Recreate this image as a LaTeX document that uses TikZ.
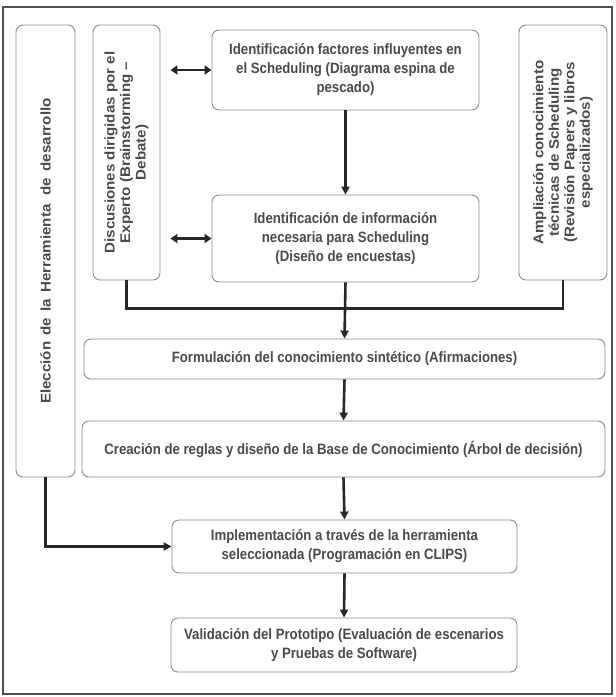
\documentclass[tikz,border=0pt]{standalone}
\usepackage{fontspec}
\setmainfont{Liberation Sans}
\newfontfamily\condfont[FakeStretch=0.88]{Liberation Sans}
\newfontfamily\widefont[FakeStretch=1.08]{Liberation Sans}
\usetikzlibrary{arrows.meta}
\definecolor{txt}{HTML}{4A4A4A}
\definecolor{bord}{HTML}{8C8C8C}
\definecolor{frm}{HTML}{505050}
\tikzset{
  box/.style={draw=bord, line width=0.9pt, rounded corners=7pt, fill=white,
    text=txt, font=\condfont\bfseries\fontsize{15}{19}\selectfont,
    align=center, inner sep=2pt},
  vbox/.style={box, rotate=90, font=\widefont\bfseries\fontsize{14}{15.5}\selectfont},
  flow/.style={line width=2.6pt, draw=black!85, -{Triangle[length=8pt,width=8pt]}},
  plain/.style={line width=2.6pt, draw=black!85},
  dbl/.style={line width=2.6pt, draw=black!85, {Triangle[length=7pt,width=9pt]}-{Triangle[length=7pt,width=9pt]}}
}
\begin{document}
\begin{tikzpicture}[x=1pt,y=-1pt]
\useasboundingbox (0,0) rectangle (616,697);
\draw[frm, line width=1.4pt, fill=white] (3,7) rectangle (612,694);
\node[vbox, minimum width=452pt, minimum height=59pt] (elec) at (45.5,251) {Elección\hspace{2pt} de\hspace{2pt} la\hspace{2pt} Herramienta\hspace{5pt} de\hspace{2pt} desarrollo};
\node[vbox, minimum width=255pt, minimum height=67pt] (disc) at (126.5,152.5) {Discusiones dirigidas por el\\Experto (Brainstorming –\\Debate)};
\node[vbox, minimum width=255pt, minimum height=88pt] (ampl) at (563,152.5) {Ampliación conocimiento\\técnicas de Scheduling\\(Revisión Papers y libros\\especializados)};
\node[box, minimum width=267pt, minimum height=80pt] (f1) at (345.5,70) {Identificación factores influyentes en\\el Scheduling (Diagrama espina de\\pescado)};
\node[box, minimum width=267pt, minimum height=87pt] (f2) at (345.5,238.5) {Identificación de información\\necesaria para Scheduling\\(Diseño de encuestas)};
\node[box, minimum width=521pt, minimum height=40pt] (form) at (344.5,359) {Formulación del conocimiento sintético (Afirmaciones)};
\node[box, minimum width=523pt, minimum height=56pt] (crea) at (343.5,449) {Creación de reglas y diseño de la Base de Conocimiento (Árbol de decisión)};
\node[box, minimum width=345pt, minimum height=53pt] (impl) at (344.5,546.5) {Implementación a través de la herramienta\\seleccionada (Programación en CLIPS)};
\node[box, minimum width=346pt, minimum height=54pt] (valid) at (344,645) {Validación del Prototipo (Evaluación de escenarios\\y Pruebas de Software)};
% connectors
\draw[flow] (f1.south) -- (f2.north);
\draw[dbl] ([xshift=10pt]disc.south |- f1.west) -- (f1.west);
\draw[dbl] ([xshift=10pt]disc.south |- f2.west) -- (f2.west);
\draw[plain] (disc.west) -- ++(0,28) -| (ampl.west);
\draw[flow] (f2.south) -- (form.north);
\draw[flow] (form.south) -- (crea.north);
\draw[flow] (crea.south) -- (impl.north);
\draw[flow] (impl.south) -- (valid.north);
\draw[flow] (elec.west) |- (impl.west);
\end{tikzpicture}
\end{document}
